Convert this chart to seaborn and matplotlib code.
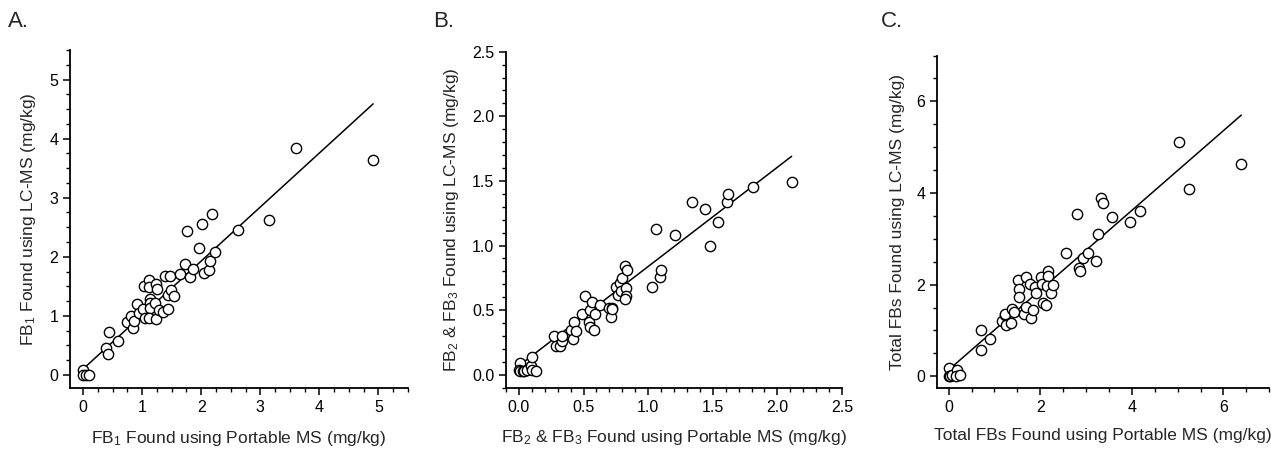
import matplotlib
matplotlib.use("Agg")
import matplotlib.pyplot as plt
import numpy as np
import pandas as pd
import seaborn as sns
from matplotlib.ticker import AutoMinorLocator, MultipleLocator, FormatStrFormatter

sns.set_theme(style="ticks")
plt.rcParams['font.family'] = ['Liberation Sans', 'DejaVu Sans']
plt.rcParams['mathtext.fontset'] = 'custom'
plt.rcParams['mathtext.rm'] = 'Liberation Sans'
plt.rcParams['mathtext.it'] = 'Liberation Sans'

# Panel A: FB1
fb1_portable = [0, 0, 0.05, 0.1, 0.39, 0.44, 0.43, 0.60, 0.75, 0.82, 0.84, 0.86, 0.91, 0.94,
                1.01, 1.03, 1.05, 1.11, 1.11, 1.13, 1.13, 1.13, 1.12, 1.24, 1.25, 1.22, 1.24,
                1.29, 1.36, 1.39, 1.47, 1.44, 1.49, 1.54, 1.43, 1.64, 1.73, 1.76, 1.81, 1.86,
                1.97, 2.01, 2.05, 2.13, 2.15, 2.18, 2.23, 2.63, 3.14, 3.61, 4.91]
fb1_lcms = [0.08, 0, 0, 0, 0.46, 0.72, 0.36, 0.58, 0.89, 0.99, 0.80, 0.92, 1.20, 1.05,
            1.12, 1.50, 0.96, 1.61, 1.49, 1.28, 1.21, 1.14, 0.97, 1.54, 1.46, 1.21, 0.95,
            1.10, 1.07, 1.67, 1.68, 1.35, 1.44, 1.33, 1.12, 1.71, 1.88, 2.44, 1.66, 1.79,
            2.15, 2.55, 1.72, 1.77, 1.93, 2.72, 2.08, 2.45, 2.62, 3.84, 3.63]

# Panel B: FB2 & FB3
fb23_portable = [0.005, 0.0, 0.01, 0.03, 0.04, 0.06, 0.095, 0.10, 0.10, 0.13, 0.27, 0.29,
                 0.32, 0.33, 0.33, 0.405, 0.42, 0.43, 0.44, 0.485, 0.51, 0.55, 0.54, 0.55,
                 0.565, 0.58, 0.59, 0.63, 0.70, 0.72, 0.71, 0.72, 0.75, 0.77, 0.78, 0.80,
                 0.79, 0.82, 0.84, 0.83, 0.83, 0.82, 1.03, 1.06, 1.09, 1.10, 1.21, 1.34,
                 1.44, 1.48, 1.54, 1.61, 1.62, 1.81, 2.11]
fb23_lcms = [0.09, 0.04, 0.03, 0.03, 0.03, 0.04, 0.07, 0.14, 0.04, 0.03, 0.30, 0.22,
             0.22, 0.26, 0.30, 0.35, 0.28, 0.41, 0.34, 0.47, 0.61, 0.50, 0.41, 0.37,
             0.56, 0.35, 0.47, 0.54, 0.52, 0.52, 0.45, 0.51, 0.68, 0.62, 0.71, 0.75,
             0.65, 0.84, 0.81, 0.67, 0.61, 0.59, 0.68, 1.13, 0.76, 0.81, 1.08, 1.34,
             1.28, 1.00, 1.18, 1.34, 1.40, 1.45, 1.49]

# Panel C: total FBs
total_portable = [0, 0, 0.03, 0.08, 0.19, 0.17, 0.24, 0.71, 0.71, 0.91, 1.17, 1.22, 1.24,
                  1.26, 1.35, 1.39, 1.43, 1.52, 1.53, 1.53, 1.64, 1.68, 1.69, 1.77, 1.80,
                  1.84, 1.88, 1.90, 2.01, 2.04, 2.06, 2.12, 2.17, 2.17, 2.15, 2.24, 2.28,
                  2.57, 2.81, 2.84, 2.86, 2.94, 3.05, 3.21, 3.26, 3.33, 3.37, 3.57, 3.96,
                  4.17, 5.04, 5.24, 6.39]
total_lcms = [0.18, 0.01, 0.0, 0.02, 0.14, 0.01, 0.02, 1.01, 0.57, 0.82, 1.20, 1.34, 1.36,
              1.12, 1.16, 1.46, 1.40, 2.09, 1.90, 1.74, 1.36, 2.16, 1.52, 2.01, 1.27,
              1.45, 1.94, 1.81, 2.17, 2.01, 1.59, 1.56, 2.30, 2.19, 1.97, 1.81, 1.99,
              2.68, 3.55, 2.36, 2.30, 2.58, 2.68, 2.52, 3.10, 3.88, 3.79, 3.48, 3.36,
              3.61, 5.11, 4.09, 4.64]

# fitted lines as printed in the figure (intercept, slope)
fit_intercepts = [0.10, 0.07, 0.14]
fit_slopes = [0.914, 0.768, 0.87]

panels = [
    ("A.", fb1_portable, fb1_lcms,
     "FB$_1$ Found using Portable MS (mg/kg)", "FB$_1$ Found using LC-MS (mg/kg)",
     (-0.22, 5.5), 1, 4, "%d", [0.0551, 0.1473, 0.2659, 0.7429], 0.006),
    ("B.", fb23_portable, fb23_lcms,
     "FB$_2$ & FB$_3$ Found using Portable MS (mg/kg)", "FB$_2$ & FB$_3$ Found using LC-MS (mg/kg)",
     (-0.1, 2.5), 0.5, 5, "%.1f", [0.3981, 0.1479, 0.2644, 0.7385], 0.341),
    ("C.", total_portable, total_lcms,
     "Total FBs Found using Portable MS (mg/kg)", "Total FBs Found using LC-MS (mg/kg)",
     (-0.25, 7.0), 2, 4, "%d", [0.7374, 0.1479, 0.2612, 0.7301], 0.693),
]

fig = plt.figure(figsize=(12.71, 4.55), dpi=100)

for i, (label, xs, ys, xlab, ylab, lims, major, nminor, fmt, pos, lx) in enumerate(panels):
    ax = fig.add_axes(pos)
    df = pd.DataFrame({'x': xs, 'y': ys})
    # regression line spanning the data range
    xr = np.array([min(xs), max(xs)])
    line_df = pd.DataFrame({'x': xr, 'y': fit_intercepts[i] + fit_slopes[i] * xr})
    sns.lineplot(data=line_df, x='x', y='y', ax=ax, color='black', lw=1.1, zorder=2)
    sns.scatterplot(data=df, x='x', y='y', ax=ax, s=55, facecolor='white',
                    edgecolor='black', linewidth=1.0, zorder=3)
    ax.set_xlim(lims)
    ax.set_ylim(lims)
    ax.xaxis.set_major_locator(MultipleLocator(major))
    ax.yaxis.set_major_locator(MultipleLocator(major))
    ax.xaxis.set_minor_locator(AutoMinorLocator(nminor))
    ax.yaxis.set_minor_locator(AutoMinorLocator(nminor))
    ax.xaxis.set_major_formatter(FormatStrFormatter(fmt))
    ax.yaxis.set_major_formatter(FormatStrFormatter(fmt))
    ax.tick_params(which='major', direction='out', length=5, width=1.1, labelsize=11.5,
                   color='black', labelcolor='black')
    ax.tick_params(which='minor', direction='out', length=3, width=1.0, color='black')
    for side in ['top', 'right']:
        ax.spines[side].set_visible(False)
    for side in ['left', 'bottom']:
        ax.spines[side].set_linewidth(1.3)
        ax.spines[side].set_color('black')
    ax.set_xlabel(xlab, fontsize=12.5, labelpad=10)
    ax.set_ylabel(ylab, fontsize=12.5, labelpad=8)
    fig.text(lx, 0.93, label, fontsize=16, ha='left', va='bottom')

fig.savefig('out.png', dpi=100)
